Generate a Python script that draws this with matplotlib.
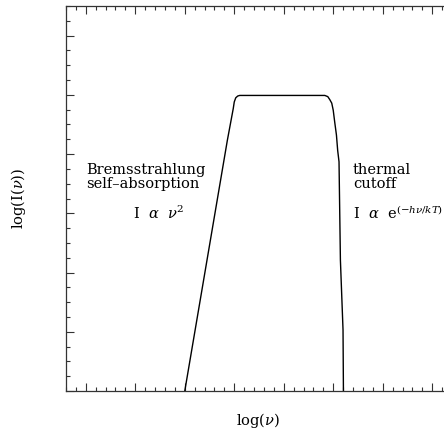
import matplotlib
matplotlib.use('Agg')
import matplotlib.pyplot as plt
from matplotlib.ticker import MultipleLocator, NullFormatter

# schematic spectrum (arbitrary log units)
log_nu = [2.00, 2.86, 2.98, 3.00, 3.03, 3.07, 3.11,
          4.83, 4.89, 4.93, 4.97, 5.00, 5.03, 5.065, 5.09, 5.117,
          5.145, 5.198, 5.206]
log_I = [0.00, 4.23, 4.77, 4.88, 4.95, 4.98, 4.99,
         4.99, 4.97, 4.92, 4.86, 4.74, 4.54, 4.32, 4.06, 3.87,
         2.21, 1.03, 0.00]

plt.rcParams['font.family'] = ['DejaVu Serif']
plt.rcParams['mathtext.fontset'] = 'dejavuserif'

fig = plt.figure(figsize=(4.44, 4.29), dpi=100)
ax = fig.add_axes([66 / 444, 38 / 429, 386 / 444, 385 / 429])

ax.plot(log_nu, log_I, color='black', linewidth=1.0)

ax.set_xlim(-0.4, 7.4)
ax.set_ylim(0, 6.5)

ax.xaxis.set_major_locator(MultipleLocator(1))
ax.xaxis.set_minor_locator(MultipleLocator(0.2))
ax.yaxis.set_major_locator(MultipleLocator(1))
ax.yaxis.set_minor_locator(MultipleLocator(0.25))
ax.xaxis.set_major_formatter(NullFormatter())
ax.yaxis.set_major_formatter(NullFormatter())
ax.tick_params(which='both', direction='in', top=True, right=True,
               color='#333333', width=0.8)
ax.tick_params(which='major', length=5.5)
ax.tick_params(which='minor', length=2.8)
for s in ax.spines.values():
    s.set_color('#333333')
    s.set_linewidth(0.9)

fs = 10.5
ax.text(0.0, 3.38, 'Bremsstrahlung\nself\u2013absorption', fontsize=fs,
        ha='left', va='bottom', linespacing=1.0)
ax.text(0.95, 2.85, r'I  $\alpha$  $\nu^{2}$', fontsize=fs, ha='left', va='bottom')
ax.text(5.4, 3.38, 'thermal\ncutoff', fontsize=fs, ha='left', va='bottom',
        linespacing=1.0)
ax.text(5.4, 2.85, r'I  $\alpha$  e$^{(-h\nu/kT)}$', fontsize=fs,
        ha='left', va='bottom')

fig.text(258 / 444, 1 - 420 / 429, r'log($\nu$)', fontsize=fs,
         ha='center', va='center')
fig.text(18 / 444, 1 - 198 / 429, r'log(I($\nu$))', fontsize=fs,
         ha='center', va='center', rotation=90)

fig.savefig('out.png', dpi=100)
